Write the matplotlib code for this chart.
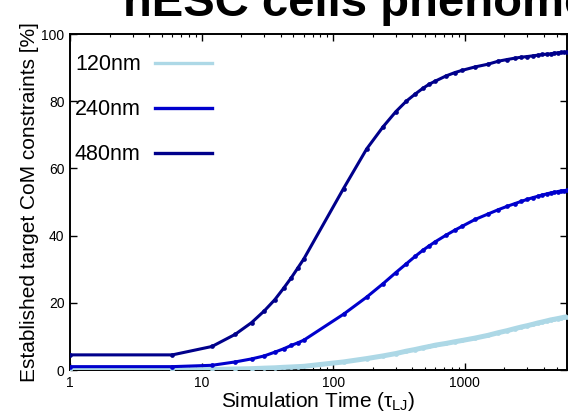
import matplotlib
matplotlib.use("Agg")
import matplotlib.pyplot as plt
from matplotlib.lines import Line2D

plt.rcParams["font.family"] = ["Liberation Sans", "DejaVu Sans"]
plt.rcParams["mathtext.fontset"] = "custom"
plt.rcParams["mathtext.rm"] = "Liberation Sans"
plt.rcParams["mathtext.it"] = "Liberation Sans"

# --- data: fraction of established CoM constraints vs simulation time ---------

TIME = [1, 6, 12, 18, 24, 30, 36, 42, 48, 54, 60,
        120, 180, 240, 300, 360, 420, 480, 540, 600, 720, 840, 960,
        1200, 1500, 1800, 2100, 2400, 2700, 3000, 3300, 3600, 3900,
        4200, 4500, 4800, 5100, 5400, 5700, 6000]

EST_120 = [0.0, 0.05, 0.15, 0.3, 0.4, 0.55, 0.65, 0.8, 0.9, 1.0, 1.1,
           2.4, 3.4, 4.2, 4.9, 5.6, 6.1, 6.6, 7.0, 7.4, 7.9, 8.4, 8.8,
           9.5, 10.3, 11.1, 11.7, 12.3, 12.8, 13.2, 13.6, 14.0, 14.3,
           14.6, 14.9, 15.1, 15.3, 15.5, 15.7, 15.8]

EST_240 = [1.0, 1.0, 1.4, 2.4, 3.3, 4.2, 5.3, 6.3, 7.3, 8.1, 8.9,
           16.6, 21.7, 25.7, 29.0, 31.6, 33.8, 35.6, 37.0, 38.2, 40.1, 41.6, 42.8,
           44.8, 46.4, 47.7, 48.7, 49.5, 50.2, 50.8, 51.3, 51.7, 52.1,
           52.4, 52.7, 52.9, 53.1, 53.3, 53.4, 53.5]

EST_480 = [4.5, 4.5, 7.0, 10.6, 14.1, 17.6, 20.9, 24.3, 27.4, 30.4, 33.1,
           54.0, 65.8, 72.4, 76.9, 80.0, 82.1, 83.8, 85.1, 86.0, 87.5, 88.5, 89.2,
           90.2, 91.0, 91.9, 92.4, 92.8, 93.1, 93.3, 93.5, 93.7, 93.9,
           94.0, 94.1, 94.3, 94.4, 94.5, 94.55, 94.6]

LABELS = ["120nm", "240nm", "480nm"]
COLORS = ["#add8e6", "#0000cd", "#00008b"]

# --- figure ---------------------------------------------------------------------

fig = plt.figure(figsize=(5.68, 4.16), dpi=100)
ax = fig.add_axes([70 / 568, 1 - 370 / 416, 497 / 568, 336 / 416])

series = [EST_120, EST_240, EST_480]
widths = [3.6, 2.2, 2.2]
for vals, col, lw in zip(series, COLORS, widths):
    ax.plot(TIME, vals, color=col, linewidth=lw, marker="o", markersize=3.4,
            markeredgewidth=0, zorder=3)

ax.set_xscale("log")
ax.set_xlim(1, 6000)
ax.set_ylim(0, 100)
ax.set_yticks([0, 20, 40, 60, 80, 100])
ax.set_xticks([1, 10, 100, 1000])
ax.set_xticklabels(["1", "10", "100", "1000"])

ax.tick_params(which="both", direction="in", top=True, right=True,
               labelsize=10, pad=4)
ax.tick_params(which="major", length=5, width=1.0)
ax.tick_params(which="minor", length=2.5, width=0.8)
ax.minorticks_on()
ax.yaxis.set_minor_locator(matplotlib.ticker.NullLocator())
for sp in ax.spines.values():
    sp.set_linewidth(1.4)

ax.set_xlabel(r"Simulation Time ($\tau_{\mathrm{LJ}}$)", fontsize=15, labelpad=0)
ax.set_ylabel("Established target CoM constraints [%]", fontsize=15, labelpad=2)

handles = [Line2D([], [], color=c, linewidth=2.4) for c in COLORS]
ax.legend(handles, LABELS, loc="upper left", bbox_to_anchor=(-0.012, 0.972),
          frameon=False, markerfirst=False, fontsize=15.5, handlelength=2.65,
          handletextpad=0.65, labelspacing=1.12, borderpad=0.3, borderaxespad=0.2)

fig.text(123 / 568, 1 - 16 / 416, "hESC cells phenomenology", fontsize=34,
         fontweight="bold", ha="left", va="baseline")

fig.savefig("out.png", dpi=100)
